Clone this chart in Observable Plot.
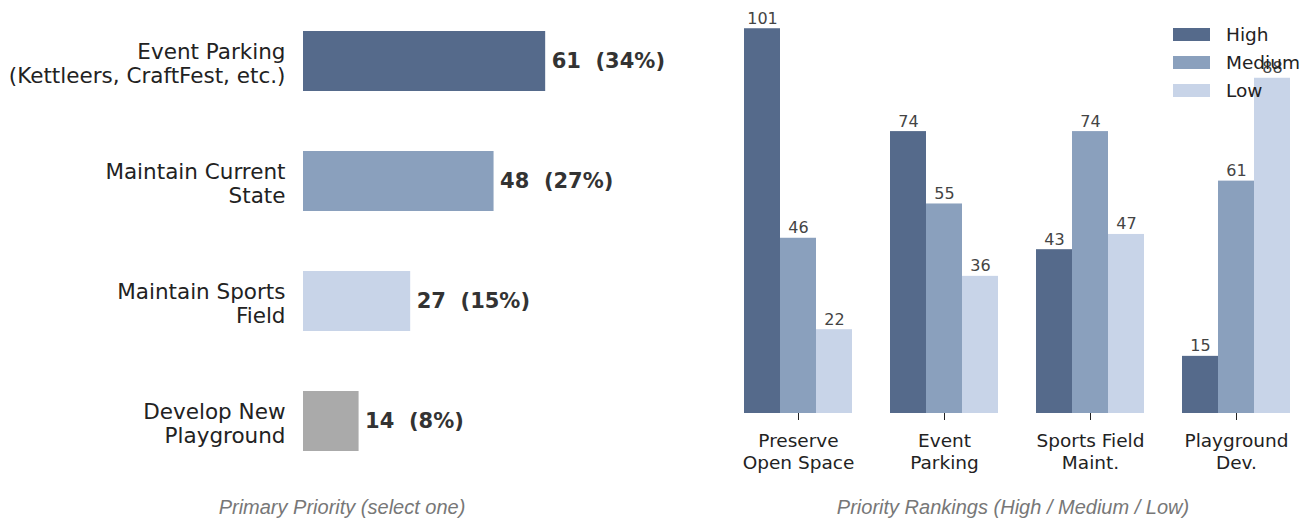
<!DOCTYPE html>
<html>
<head>
<meta charset="utf-8">
<script src="https://cdn.jsdelivr.net/npm/d3@7"></script>
<script src="https://cdn.jsdelivr.net/npm/@observablehq/plot@0.6"></script>
<style>
  html, body { margin: 0; padding: 0; background: #fff; }
  #wrap { position: relative; width: 1311px; height: 519px; overflow: hidden; font-family: "DejaVu Sans", sans-serif; }
  #left { position: absolute; left: 0; top: 0; }
  #right { position: absolute; left: 700px; top: 0; }
  .caption { position: absolute; top: 494px; font-family: "Liberation Sans", Arial, sans-serif; font-style: italic; font-size: 20px; color: #777; white-space: nowrap; transform: translateX(-50%); line-height: 26px; }
  #legend { position: absolute; left: 1173px; top: 20px; }
  .lg-row { display: flex; align-items: center; height: 28px; }
  .lg-sw { width: 37px; height: 13px; margin-right: 16px; }
  .lg-tx { font-family: "DejaVu Sans", sans-serif; font-size: 18.5px; color: #222; }
</style>
</head>
<body>
<div id="wrap">
  <div id="left"></div>
  <div id="right"></div>
  <div class="caption" id="capL" style="left:342px"></div>
  <div class="caption" id="capR" style="left:1013px"></div>
  <div id="legend"></div>
</div>
<script>
// ---- Left chart data: primary priority ----
const primaryCats = ["Event Parking\n(Kettleers, CraftFest, etc.)", "Maintain Current\nState", "Maintain Sports\nField", "Develop New\nPlayground"];
const primaryCounts = [61, 48, 27, 14];
const primaryPct = [34, 27, 15, 8];
const primaryColors = ["#556a8b", "#8aa0bd", "#c8d4e8", "#aaaaaa"];
const primaryCaption = "Primary Priority (select one)";

// ---- Right chart data: priority rankings ----
const rankCats = ["Preserve\nOpen Space", "Event\nParking", "Sports Field\nMaint.", "Playground\nDev."];
const levels = ["High", "Medium", "Low"];
const highVals = [101, 74, 43, 15];
const mediumVals = [46, 55, 74, 61];
const lowVals = [22, 36, 47, 88];
const levelColors = ["#556a8b", "#8aa0bd", "#c8d4e8"];
const rankCaption = "Priority Rankings (High / Medium / Low)";

const primaryRows = primaryCats.map((c, i) => ({cat: c, count: primaryCounts[i], pct: primaryPct[i]}));
const levelVals = [highVals, mediumVals, lowVals];
const rankRows = [];
rankCats.forEach((c, i) => levels.forEach((l, j) => rankRows.push({cat: c, level: l, value: levelVals[j][i]})));

const left = Plot.plot({
  width: 700, height: 482,
  marginLeft: 303, marginRight: 0, marginTop: 0, marginBottom: 0,
  style: {fontFamily: "DejaVu Sans, sans-serif", color: "#222", background: "transparent"},
  x: {domain: [0, 100], axis: null},
  y: {domain: primaryCats, paddingInner: 0.5, paddingOuter: 0.25, axis: null},
  color: {domain: primaryCats, range: primaryColors},
  marks: [
    Plot.barX(primaryRows, {x: "count", y: "cat", fill: "cat"}),
    Plot.text(primaryRows, {x: "count", y: "cat", text: d => `${d.count}  (${d.pct}%)`, textAnchor: "start", dx: 6, fontSize: 21, fontWeight: "bold", fill: "#333"}),
    Plot.axisY({tickSize: 0, tickPadding: 18, fontSize: 21.5, lineHeight: 1.13, dy: 2, label: null})
  ]
});
document.getElementById("left").appendChild(left);

const right = Plot.plot({
  width: 611, height: 482,
  marginLeft: 43, marginRight: 20, marginTop: 13, marginBottom: 69,
  style: {fontFamily: "DejaVu Sans, sans-serif", color: "#222", background: "transparent"},
  fx: {domain: rankCats, paddingInner: 0.2466, paddingOuter: 0, label: null},
  x: {domain: levels, padding: 0, axis: null},
  y: {domain: [0, 105], axis: null},
  color: {domain: levels, range: levelColors},
  marks: [
    Plot.barY(rankRows, {fx: "cat", x: "level", y: "value", fill: "level"}),
    Plot.text(rankRows, {fx: "cat", x: "level", y: "value", text: d => String(d.value), lineAnchor: "bottom", dy: -5, fontSize: 16, fill: "#444"}),
    Plot.axisFx({anchor: "bottom", tickSize: 7, tickPadding: 11, fontSize: 18.5, lineHeight: 1.19, label: null})
  ]
});
document.getElementById("right").appendChild(right);

document.getElementById("capL").textContent = primaryCaption;
document.getElementById("capR").textContent = rankCaption;

const lg = document.getElementById("legend");
levels.forEach((l, i) => {
  const row = document.createElement("div");
  row.className = "lg-row";
  const sw = document.createElement("div");
  sw.className = "lg-sw";
  sw.style.background = levelColors[i];
  const tx = document.createElement("div");
  tx.className = "lg-tx";
  tx.textContent = l;
  row.appendChild(sw); row.appendChild(tx);
  lg.appendChild(row);
});
</script>
</body>
</html>
